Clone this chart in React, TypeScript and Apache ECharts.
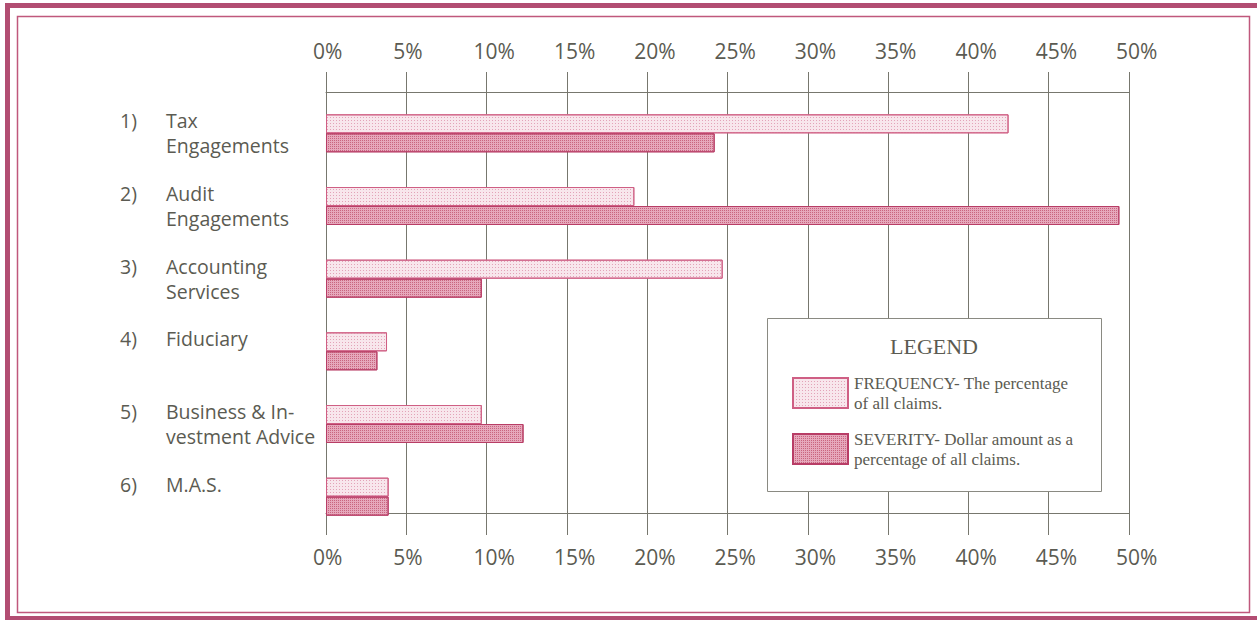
import React, { useEffect, useRef } from "react";
import * as echarts from "echarts";

const categories = [
  "Tax\nEngagements",
  "Audit\nEngagements",
  "Accounting\nServices",
  "Fiduciary",
  "Business & In-\nvestment Advice",
  "M.A.S.",
];
const numbers = ["1)", "2)", "3)", "4)", "5)", "6)"];
const frequency = [42.5, 19.2, 24.7, 3.8, 9.7, 3.9];
const severity = [24.2, 49.4, 9.7, 3.2, 12.3, 3.9];
const freqName = "FREQUENCY- The percentage\nof all claims.";
const sevName = "SEVERITY- Dollar amount as a\npercentage of all claims.";
const legendTitle = "LEGEND";

const TEXT = "#5b5b52";
const GRID = "#77776e";
const SANS = "'Open Sans', 'Noto Sans', sans-serif";
const SERIF = "'Liberation Serif', 'DejaVu Serif', serif";

export default function App() {
  const ref = useRef<HTMLDivElement>(null);
  useEffect(() => {
    const chart = echarts.init(ref.current!, null, { renderer: "svg" });
    const singleLine = (s: string) => !s.includes("\n");
    const labelBase = { color: TEXT, fontFamily: SANS, fontSize: 19.5, lineHeight: 25 };
    const option: any = {
      animation: false,
      backgroundColor: "#ffffff",
      grid: [
        { left: 326, width: 803, top: 97, height: 436, containLabel: false },
        { left: 326, width: 803, top: 92, height: 421, containLabel: false },
      ],
      xAxis: [
        { type: "value", gridIndex: 0, min: 0, max: 50, show: false },
        {
          type: "value",
          gridIndex: 1,
          position: "top",
          min: 0,
          max: 50,
          interval: 5,
          axisLine: { show: true, onZero: false, lineStyle: { color: GRID, width: 1 } },
          axisTick: { show: true, length: 20, lineStyle: { color: GRID } },
          axisLabel: {
            formatter: "{value}%",
            color: TEXT,
            fontFamily: SANS,
            fontSize: 21,
            margin: 31,
            align: "left",
            padding: [0, 0, 0, -13],
          },
          splitLine: { show: true, lineStyle: { color: GRID, width: 1 } },
        },
        {
          type: "value",
          gridIndex: 1,
          position: "bottom",
          min: 0,
          max: 50,
          interval: 5,
          axisLine: { show: true, onZero: false, lineStyle: { color: GRID, width: 1 } },
          axisTick: { show: true, length: 22, lineStyle: { color: GRID } },
          axisLabel: {
            formatter: "{value}%",
            color: TEXT,
            fontFamily: SANS,
            fontSize: 21,
            margin: 33,
            align: "left",
            padding: [0, 0, 0, -13],
          },
          splitLine: { show: false },
        },
      ],
      yAxis: [
        {
          type: "category",
          gridIndex: 0,
          inverse: true,
          position: "left",
          data: categories.map((c) => ({
            value: c,
            textStyle: {
              align: "left",
              verticalAlign: singleLine(c) ? "bottom" : "middle",
            },
          })),
          axisLine: { show: false },
          axisTick: { show: false },
          axisLabel: {
            align: "left",
            margin: 206,
            ...labelBase,
            formatter: (value: string, index: number) => {
              const lines = value.split("\n");
              let s = `{n|${numbers[index]}}{t|${lines[0]}}`;
              if (lines[1]) s += `\n{s|${lines[1]}}`;
              return s;
            },
            rich: {
              n: { ...labelBase, width: 46 },
              t: { ...labelBase },
              s: { ...labelBase, padding: [0, 0, 0, 46] },
            },
          },
        },
        { type: "value", gridIndex: 1, show: false },
      ],
      legend: {
        orient: "vertical",
        left: 787,
        top: 368,
        itemWidth: 55,
        itemHeight: 30,
        itemGap: 16,
        icon: "rect",
        z: 10,
        data: [freqName, sevName],
        textStyle: { color: TEXT, fontFamily: SERIF, fontSize: 17, lineHeight: 20, padding: [0, 0, 0, 1] },
      },
      graphic: [
        {
          type: "rect",
          z: 5,
          shape: { x: 767.5, y: 318.5, width: 334, height: 173 },
          style: { fill: "#ffffff", stroke: "#8a8a82", lineWidth: 1 },
        },
        {
          type: "text",
          z: 6,
          x: 934,
          y: 346,
          style: {
            text: legendTitle,
            fill: TEXT,
            font: "22px " + SERIF,
            textAlign: "center",
            textVerticalAlign: "middle",
          },
        },
        {
          type: "rect",
          z: 20,
          shape: { x: 7.5, y: 5.5, width: 1262, height: 613 },
          style: { fill: "none", stroke: "#b24d72", lineWidth: 5 },
        },
        {
          type: "rect",
          z: 20,
          shape: { x: 17.5, y: 16.5, width: 1232, height: 596 },
          style: { fill: "none", stroke: "#c0587c", lineWidth: 1.5 },
        },
      ],
      series: [
        {
          name: freqName,
          type: "bar",
          xAxisIndex: 0,
          yAxisIndex: 0,
          data: frequency,
          barWidth: 19,
          barGap: "0%",
          itemStyle: {
            color: "#f8e6ec",
            borderColor: "#cf5f84",
            borderWidth: 1,
            decal: {
              symbol: "rect",
              symbolSize: 1,
              dashArrayX: [1, 2],
              dashArrayY: [1, 2],
              rotation: 0,
              color: "#e3a3b8",
            },
          },
        },
        {
          name: sevName,
          type: "bar",
          xAxisIndex: 0,
          yAxisIndex: 0,
          data: severity,
          barWidth: 19,
          barGap: "0%",
          itemStyle: {
            color: "#e6a8bc",
            borderColor: "#b83d66",
            borderWidth: 1,
            decal: {
              symbol: "rect",
              symbolSize: 1,
              dashArrayX: [1, 1],
              dashArrayY: [1, 1],
              rotation: 0,
              color: "#c9657f",
            },
          },
        },
      ],
    };
    chart.setOption(option);
    return () => chart.dispose();
  }, []);
  return (
    <div
      ref={ref}
      style={{ position: "absolute", left: 0, top: 0, width: 1257, height: 620 }}
    />
  );
}
